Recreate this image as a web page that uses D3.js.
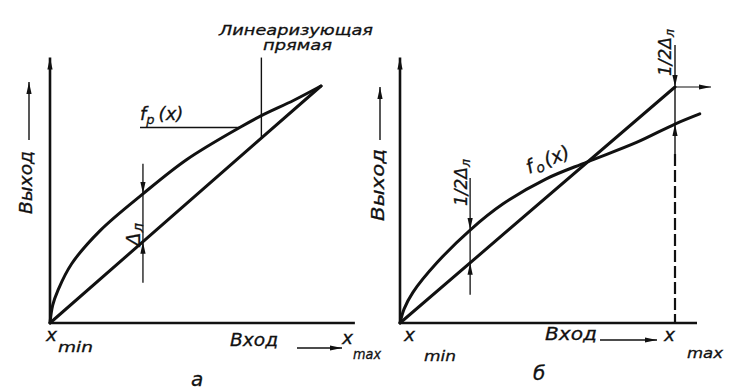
<!DOCTYPE html>
<html>
<head>
<meta charset="utf-8">
<script src="https://cdn.jsdelivr.net/npm/d3@7"></script>
<style>
	body { margin: 0; background: #fff; }
	text { font-family: "DejaVu Sans", "Liberation Sans", sans-serif; font-style: italic; fill: #111; stroke: #111; stroke-width: 0.3; }
</style>
</head>
<body>
<svg id="chart" width="738" height="390"></svg>
<script>
// panel а: real characteristic f_p(x) and the linearising line through the end points
const curveAX = [0, 0.01, 0.03, 0.08, 0.185, 0.343, 0.505, 0.7, 0.78, 0.9, 1];
const curveAY = [0, 0.075, 0.14, 0.25, 0.39, 0.545, 0.69, 0.825, 0.875, 0.94, 1];
const lineAX = [0, 1];
const lineAY = [0, 1];

// panel б: f_o(x) and the line shifted by half the error
const curveBX = [0, 0.015, 0.047, 0.134, 0.255, 0.375, 0.53, 0.68, 0.86, 1, 1.09];
const curveBY = [0, 0.06, 0.13, 0.255, 0.394, 0.505, 0.61, 0.682, 0.765, 0.843, 0.886];
const lineBX = [0, 1];
const lineBY = [0, 1];

// where the error Δл is marked
const deltaAX = 0.343;
const deltaBX = [0.255, 1];
const pointerAX = 0.78; // "Линеаризующая прямая" leader
const leaderAX = 0.7; // f_p(x) leader

const ink = "#111";
const svg = d3.select("#chart");

svg
	.append("defs")
	.append("marker")
	.attr("id", "arrow")
	.attr("markerUnits", "userSpaceOnUse")
	.attr("viewBox", "0 -4 12 8")
	.attr("refX", 12)
	.attr("refY", 0)
	.attr("markerWidth", 12)
	.attr("markerHeight", 8)
	.attr("orient", "auto")
	.append("path")
	.attr("d", "M0,-2.6L12,0L0,2.6Z")
	.attr("fill", ink);

const xa = d3.scaleLinear([0, 1], [50, 321]);
const ya = d3.scaleLinear([0, 1], [323, 86]);
const xb = d3.scaleLinear([0, 1], [400, 675]);
const yb = d3.scaleLinear([0, 1], [323, 87]);

const seg = (x1, y1, x2, y2, w, arrow) => {
	const l = svg
		.append("line")
		.attr("x1", x1)
		.attr("y1", y1)
		.attr("x2", x2)
		.attr("y2", y2)
		.attr("stroke", ink)
		.attr("stroke-width", w);
	if (arrow) l.attr("marker-end", "url(#arrow)");
	return l;
};

const drawPanel = (x, y, cx, cy, lx, ly, xEnd, yEnd) => {
	// axes
	seg(x(0), y(0), x(xEnd), y(0), 2.6);
	seg(x(0), y(0), x(0), y(yEnd), 2.6, true);

	const path = d3
		.line()
		.x((d) => x(d[0]))
		.y((d) => y(d[1]))
		.curve(d3.curveCatmullRom.alpha(0.5));

	svg
		.append("path")
		.attr("d", path(d3.zip(cx, cy)))
		.attr("fill", "none")
		.attr("stroke", ink)
		.attr("stroke-width", 3)
		.attr("stroke-linecap", "round");

	svg
		.append("path")
		.attr("d", d3.line().x((d) => x(d[0])).y((d) => y(d[1]))(d3.zip(lx, ly)))
		.attr("fill", "none")
		.attr("stroke", ink)
		.attr("stroke-width", 3)
		.attr("stroke-linecap", "round");
};

drawPanel(xa, ya, curveAX, curveAY, lineAX, lineAY, 1.125, 1.12);
drawPanel(xb, yb, curveBX, curveBY, lineBX, lineBY, 1.08, 1.125);

// error arrows, panel а
{
	const px = xa(deltaAX);
	const top = ya(curveAY[curveAX.indexOf(deltaAX)]);
	const bot = ya(lineAY[0] + deltaAX);
	seg(px, top - 30, px, top, 1.3, true);
	seg(px, bot + 41, px, bot, 1.3, true);
	seg(px, top, px, bot, 1.3);
}

// linearising line leader and f_p(x) leader
seg(xa(pointerAX), ya(1.12), xa(pointerAX), ya(pointerAX), 1.4);
{
	const ly = ya(curveAY[curveAX.indexOf(leaderAX)]);
	seg(140, ly, xa(leaderAX), ly, 1.4);
}

// error arrows, panel б
{
	const i = curveBX.indexOf(deltaBX[0]);
	const px = xb(deltaBX[0]);
	const top = yb(curveBY[i]);
	const bot = yb(deltaBX[0]);
	seg(px, top - 52, px, top, 1.3, true);
	seg(px, bot + 32, px, bot, 1.3, true);
	seg(px, top, px, bot, 1.3);

	const qx = xb(deltaBX[1]);
	const lineTop = yb(deltaBX[1]);
	const curveY = yb(curveBY[curveBX.indexOf(deltaBX[1])]);
	seg(qx, lineTop - 42, qx, lineTop, 1.4, true);
	seg(qx, curveY + 32, qx, curveY, 1.4, true);
	seg(qx, lineTop, qx, curveY, 1.4);
	seg(qx, curveY + 30, qx, yb(0), 2.2).attr("stroke-dasharray", "12,4");
	seg(qx, lineTop, qx + 36, lineTop, 1.2, true);
}

const label = (x, y, size, len, str, rot) => {
	const t = svg
		.append("text")
		.attr("transform", `translate(${x},${y})` + (rot ? ` rotate(${rot})` : ""))
		.attr("font-size", size)
		.text(str);
	if (len) t.attr("textLength", len).attr("lengthAdjust", "spacingAndGlyphs");
	return t;
};

// output axis captions with arrows
seg(29, 140, 29, 82, 1.4, true);
seg(380, 140, 380, 87, 1.4, true);
label(32, 214, 17, 63, "Выход", -90);
label(384, 221, 17, 72, "Выход", -90);

// input captions
seg(297, 348, 342, 348, 1.6, true);
seg(600, 340, 657, 340, 1.6, true);
label(230, 346, 17, 48, "Вход");
label(545, 340, 17, 52, "Вход");

label(46, 341, 18, 11, "x");
label(58, 352, 14, 35, "min");
label(342, 344, 18, 11, "x");
label(353, 359, 14, 28, "max");
label(404, 341, 18, 11, "x");
label(424, 361, 14, 32, "min");
label(664, 341, 18, 11, "x");
label(687, 358, 14, 36, "max");

label(191, 386, 20, 0, "а");
label(533, 380, 20, 0, "б");

// annotations
label(219, 35, 14, 154, "Линеаризующая");
label(263, 50, 14, 69, "прямая");

{
	const t = svg.append("text").attr("x", 140).attr("y", 120).attr("font-size", 18);
	t.append("tspan").text("f");
	t.append("tspan").attr("dy", 4).attr("font-size", 13).text("p");
	t.append("tspan").attr("dx", 4).attr("dy", -4).text("(x)");
}
{
	const t = svg.append("text").attr("transform", "translate(529,174) rotate(-22)").attr("font-size", 19);
	t.append("tspan").text("f");
	t.append("tspan").attr("dx", 2).attr("dy", 3).attr("font-size", 14).text("o");
	t.append("tspan").attr("dx", 2).attr("dy", -3).text("(x)");
}

const deltaLabel = (x, y, size, prefix) => {
	const t = svg.append("text").attr("transform", `translate(${x},${y}) rotate(-90)`).attr("font-size", size);
	if (prefix) t.append("tspan").text(prefix);
	t.append("tspan").text("Δ");
	t.append("tspan").attr("dy", 3).attr("font-size", size * 0.72).text("л");
};
deltaLabel(140, 246, 20, "");
deltaLabel(467, 206, 17, "1/2");
deltaLabel(671, 76, 17, "1/2");
</script>
</body>
</html>
